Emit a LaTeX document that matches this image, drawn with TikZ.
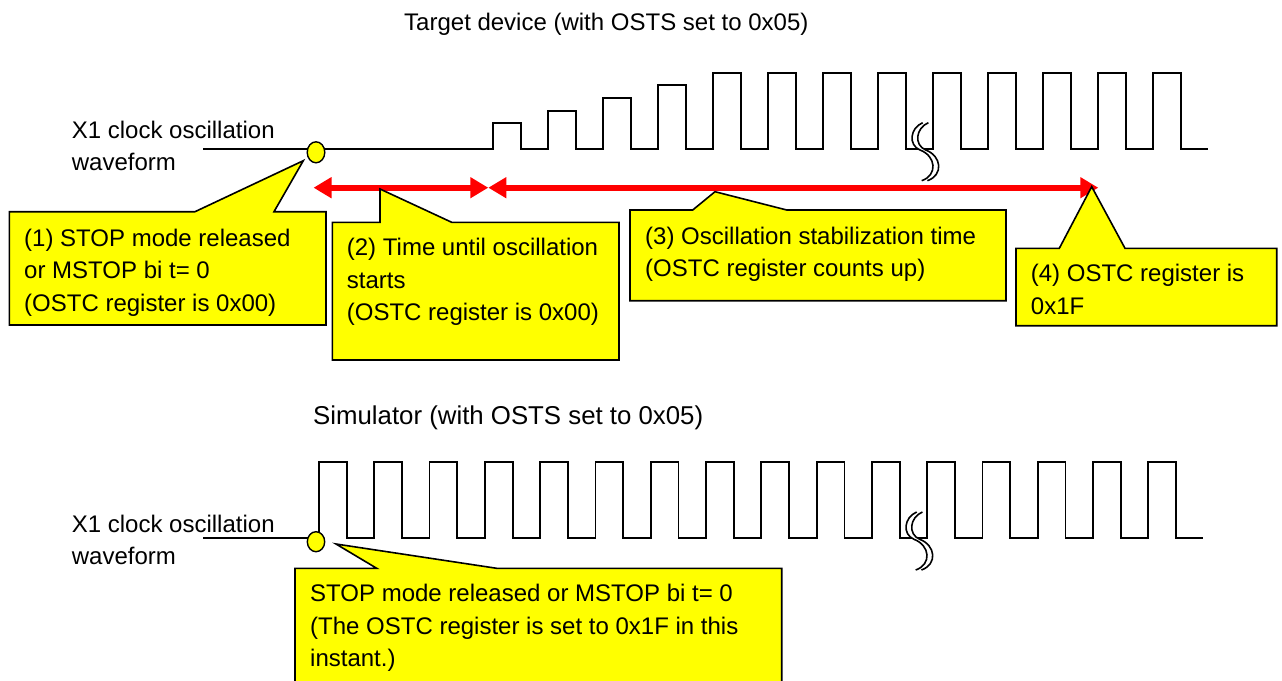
\documentclass[tikz,border=0pt]{standalone}
\usepackage{fontspec}
\setmainfont{Liberation Sans}
\usetikzlibrary{arrows.meta}
\definecolor{cyel}{RGB}{255,255,0}
\definecolor{cred}{RGB}{255,0,0}
\newcommand{\mlines}[1]{\begin{tabular}[t]{@{}l@{}}#1\end{tabular}}
\tikzset{
  brk/.pic={
    \fill[white] (2.7,-27.3) .. controls (-10,-22) and (-12,-5) .. (0,0)
      .. controls (16,6) and (18,25) .. (1.7,30.7) -- (7.4,30.7)
      .. controls (23.7,25) and (21.7,6) .. (5.7,0)
      .. controls (-6.3,-5) and (-4.3,-22) .. (8.4,-27.3) -- cycle;
    \draw[line width=1.6pt] (2.7,-27.3) .. controls (-10,-22) and (-12,-5) .. (0,0)
      .. controls (16,6) and (18,25) .. (1.7,30.7);
    \draw[line width=1.6pt] (8.4,-27.3) .. controls (-4.3,-22) and (-6.3,-5) .. (5.7,0)
      .. controls (21.7,6) and (23.7,25) .. (7.4,30.7);
  }
}
\begin{document}
\begin{tikzpicture}[x=1pt,y=-1pt,
  txt/.style={anchor=base west, inner sep=0pt, font=\fontsize{24}{32.5}\selectfont},
  wave/.style={line width=1.8pt, draw=black, line join=miter},
  callout/.style={fill=cyel, draw=black, line width=1.6pt, line join=miter},
  dot/.style={fill=cyel, draw=black, line width=1.4pt},
  span/.style={draw=cred, line width=6pt, {Triangle[length=18pt,width=20pt]}-{Triangle[length=18pt,width=20pt]}}]
\useasboundingbox (0,0) rectangle (1282,680);
\clip (0,0) rectangle (1282,680);

% titles
\node[txt] (t1) at (404,30) {Target device (with OSTS set to 0x05)};
\node[txt, font=\fontsize{25.8}{32.5}\selectfont] (t2) at (313,424) {Simulator (with OSTS set to 0x05)};

% labels
\node[txt] (l1) at (71.7,138) {\mlines{X1 clock oscillation\\waveform}};
\node[txt] (l2) at (71.7,532) {\mlines{X1 clock oscillation\\waveform}};

% top waveform
\draw[wave] (203.3,149)
  foreach \r/\h in {493.3/123.3,548.3/110.7,603.3/97.7,658.3/84.7,713.3/72.7,768.3/72.7,823.3/72.7,878.3/72.7,933.3/72.7,988.3/72.7,1043.3/72.7,1098.3/72.7,1153.3/72.7}
  { -- (\r,149) -- (\r,\h) -- ({\r+27.7},\h) -- ({\r+27.7},149) }
  -- (1208.3,149);
\pic at (920,150) {brk};

% bottom waveform
\draw[wave] (203.3,538.3)
  foreach \k in {0,...,15}
  { -- ({319+55.29*\k},538.3) -- ({319+55.29*\k},461.7) -- ({346.8+55.29*\k},461.7) -- ({346.8+55.29*\k},538.3) }
  -- (1203.3,538.3);
\pic at (914,539.3) {brk};

% markers
\draw[dot] (316,152.3) ellipse [x radius=8.8, y radius=10.5];
\draw[dot] (316,541.7) ellipse [x radius=8.7, y radius=10];

% span arrows
\coordinate (a1) at (313.5,187.7);
\coordinate (a2) at (488.3,187.7);
\coordinate (a3) at (1098.3,187.7);
\draw[span] (a1) -- (a2);
\draw[span] (a2) -- (a3);

% callouts
\draw[callout] (9.3,211.7) -- (195,211.7) -- (303.3,160.7) -- (274,211.7) -- (326,211.7) -- (326,325) -- (9.3,325) -- cycle;
\node[txt] (c1) at (24,246) {\mlines{(1) STOP mode released\\or MSTOP bi t= 0\\(OSTC register is 0x00)}};

\draw[callout] (332.3,222.3) -- (380,222.3) -- (380,189) -- (451.7,222.3) -- (619,222.3) -- (619,360) -- (332.3,360) -- cycle;
\node[txt] (c2) at (346.7,255.7) {\mlines{(2) Time until oscillation\\starts\\(OSTC register is 0x00)}};

\draw[callout] (630,210) -- (692.7,210) -- (715,191.7) -- (786.7,210) -- (1006,210) -- (1006,300.7) -- (630,300.7) -- cycle;
\node[txt] (c3) at (645,244) {\mlines{(3) Oscillation stabilization time\\(OSTC register counts up)}};

\draw[callout] (1016,248.3) -- (1059.3,248.3) -- (1091.7,186.7) -- (1125,248.3) -- (1276.7,248.3) -- (1276.7,325.7) -- (1016,325.7) -- cycle;
\node[txt] (c4) at (1030.7,281.7) {\mlines{(4) OSTC register is\\0x1F}};

\draw[callout] (295,568.3) -- (376.7,568.3) -- (336,544) -- (496.7,568.3) -- (781.7,568.3) -- (781.7,700) -- (295,700) -- cycle;
\node[txt] (c5) at (310,601.7) {\mlines{STOP mode released or MSTOP bi t= 0\\(The OSTC register is set to 0x1F in this\\instant.)}};
\end{tikzpicture}
\end{document}
